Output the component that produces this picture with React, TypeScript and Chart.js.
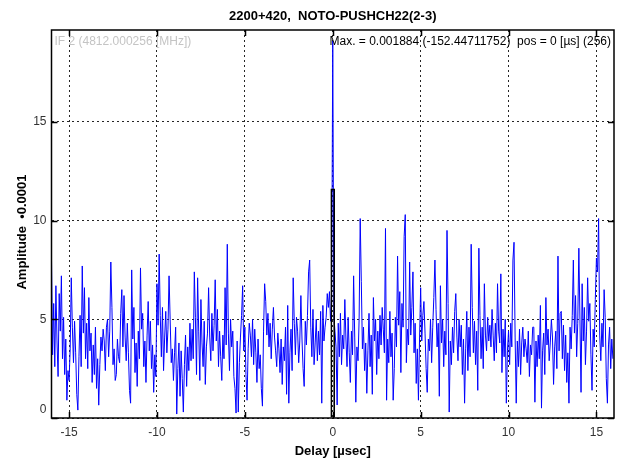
import React, { useEffect, useRef } from "react";
import { Chart, registerables } from "chart.js";

Chart.register(...registerables);

// ---- data ----
const DELAY_START = -16; // µs, first channel
const DELAY_STEP = 0.0625; // µs per channel (512 channels)

// Amplitude in units of 0.0001, read channel by channel from the plot
const amplitude: number[] = [
  // -16
  8.0, 3.2, 5.8, 2.6, 6.7, 3.9, 2.1, 6.3, 4.4, 7.2, 3.0, 5.1, 2.2, 4.0, 0.9, 2.4,
  // -15
  1.9, 3.5, 7.1, 4.6, 2.8, 4.9, 3.3, 1.2, 0.4, 3.1, 5.2, 2.6, 7.7, 4.3, 6.6, 3.0,
  // -14
  4.8, 2.5, 6.1, 3.4, 4.3, 1.8, 3.7, 2.2, 4.6, 1.5, 3.0, 0.65, 2.7, 4.1, 3.4, 4.5,
  // -13
  3.9, 2.4, 4.6, 5.0, 3.1, 4.4, 7.9, 5.6, 2.7, 3.5, 1.9, 2.2, 4.0, 3.1, 2.8, 5.3,
  // -12
  6.5, 3.6, 6.2, 4.1, 2.9, 4.8, 3.3, 1.4, 0.75, 7.5, 4.0, 5.6, 2.3, 3.8, 1.6, 4.4,
  // -11
  3.0, 7.6, 4.5, 5.3, 2.6, 3.9, 1.8, 4.2, 5.9, 3.4, 4.9, 2.5, 3.7, 1.3, 3.2, 2.1,
  // -10
  6.8, 4.7, 8.3, 5.2, 3.1, 5.6, 2.4, 4.1, 5.4, 3.3, 4.5, 7.2, 5.0, 2.8, 3.5, 1.9,
  // -9
  3.3, 4.6, 0.2, 2.5, 3.8, 1.1, 3.4, 2.0, 0.3, 2.7, 4.2, 1.6, 3.6, 2.4, 4.8, 2.9,
  // -8
  4.5, 3.0, 7.4, 5.1, 2.2, 7.1, 4.4, 1.9, 6.0, 3.8, 2.6, 4.9, 1.7, 3.6, 4.3, 6.6,
  // -7
  4.1, 2.9, 5.3, 3.4, 4.7, 7.0, 3.9, 5.5, 2.6, 4.4, 3.1, 1.9, 4.2, 3.0, 6.6, 3.7,
  // -6
  8.8, 4.3, 2.4, 5.0, 3.6, 4.4, 2.1, 1.5, 0.25, 3.9, 0.3, 2.8, 4.1, 5.2, 6.7, 3.4,
  // -5
  4.6, 2.2, 0.9, 3.5, 4.8, 4.2, 3.1, 5.0, 2.7, 4.5, 3.3, 1.8, 4.0, 2.5, 3.2, 1.5,
  // -4
  0.6, 4.4, 6.8, 5.9, 4.2, 5.3, 3.6, 4.8, 3.0, 4.5, 5.6, 4.1, 3.4, 2.6, 4.3, 3.5,
  // -3
  2.3, 4.0, 1.7, 3.6, 2.9, 4.6, 1.2, 5.7, 0.75, 3.3, 4.5, 2.4, 7.1, 4.8, 3.2, 5.1,
  // -2
  4.4, 2.8, 3.9, 6.2, 4.0, 2.5, 1.6, 4.9, 3.7, 5.2, 7.4, 8.0, 4.6, 3.1, 5.5, 2.7,
  // -1
  3.8, 5.0, 2.9, 4.4, 3.2, 5.4, 0.75, 5.7, 3.9, 4.6, 5.1, 6.3, 5.6, 6.4, 4.9, 5.8,
  // 0
  19.1, 5.2, 4.4, 3.6, 0.66, 4.8, 3.1, 5.3, 2.7, 4.2, 3.5, 6.0, 4.0, 2.6, 5.1, 3.3,
  // 1
  1.8, 4.4, 3.2, 7.2, 4.1, 0.8, 3.6, 2.9, 5.0, 10.1, 6.9, 3.5, 4.6, 2.4, 3.8, 1.25,
  // 2
  3.4, 5.3, 2.6, 4.2, 1.2, 6.1, 3.9, 5.0, 2.2, 4.4, 3.0, 5.2, 3.7, 5.6, 4.5, 3.3,
  // 3
  9.6, 0.9, 4.0, 2.8, 5.4, 3.1, 4.3, 0.9, 2.5, 5.1, 3.6, 8.2, 4.7, 6.4, 2.3, 5.8,
  // 4
  4.6, 9.2, 10.3, 2.8, 4.5, 3.7, 7.9, 4.2, 5.6, 7.4, 3.3, 4.8, 1.75, 3.5, 0.9, 4.0,
  // 5
  6.6, 3.9, 5.2, 5.9, 4.3, 2.5, 1.3, 4.0, 3.4, 5.0, 2.8, 4.6, 6.1, 8.0, 5.5, 3.6,
  // 6
  4.8, 1.1, 6.7, 3.8, 5.0, 2.6, 4.4, 3.2, 9.5, 5.8, 0.3, 3.9, 2.7, 4.6, 3.3, 5.4,
  // 7
  6.3, 4.1, 2.9, 5.0, 3.6, 4.7, 2.2, 4.0, 0.75, 3.5, 5.4, 2.4, 4.6, 3.1, 8.8, 5.6,
  // 8
  3.3, 4.9, 2.7, 4.4, 1.4, 8.6, 5.2, 3.0, 4.6, 2.5, 6.8, 4.2, 3.4, 5.1, 3.9, 4.7,
  // 9
  3.6, 5.5, 4.2, 2.9, 4.8, 3.3, 6.8, 4.4, 3.8, 7.3, 2.3, 4.5, 3.1, 5.0, 0.75, 3.4,
  // 10
  4.4, 2.7, 4.8, 3.6, 8.0, 8.9, 4.1, 0.75, 3.9, 2.6, 4.5, 2.2, 3.8, 4.6, 3.1, 4.0,
  // 11
  3.5, 2.8, 4.4, 2.1, 3.7, 3.2, 4.6, 4.6, 0.8, 3.9, 2.6, 4.2, 3.0, 5.7, 0.5, 3.4,
  // 12
  4.3, 2.2, 6.1, 3.7, 4.5, 2.9, 3.8, 5.0, 4.1, 1.7, 3.6, 4.4, 2.5, 8.2, 3.4, 5.3,
  // 13
  5.4, 3.0, 4.7, 2.4, 4.2, 1.8, 3.3, 0.75, 4.6, 3.5, 5.2, 8.0, 4.3, 6.2, 3.1, 4.8,
  // 14
  8.6, 5.0, 1.3, 6.8, 3.9, 5.6, 2.7, 4.4, 7.1, 4.9, 5.8, 3.2, 1.4, 4.5, 3.6, 6.0,
  // 15
  8.1, 7.4, 10.1, 4.2, 2.9, 4.8, 3.6, 6.5, 5.1, 2.0, 0.75, 3.7, 4.6, 2.5, 4.0, 3.0,
];

// black model bar at the peak
const modelDelay: number[] = [0];
const modelAmplitude: number[] = [11.6];

const xTicks: number[] = [-15, -10, -5, 0, 5, 10, 15];
const yTicks: number[] = [0, 5, 10, 15];
const X_MIN = -16;
const X_MAX = 16;
const Y_MIN = 0;
const Y_MAX = 19.65;

const titleText = "2200+420,  NOTO-PUSHCH22(2-3)";
const xTitle = "Delay [µsec]";
const yTitle = "Amplitude  •0.0001";
const ifText = "IF 2 (4812.000256 [MHz])";
const maxText = "Max. = 0.001884 (-152.44711752)  pos = 0 [µs] (256)";

const FONT = "'Liberation Sans', Arial, sans-serif";

const decorPlugin = {
  id: "decor",
  afterDatasetsDraw(chart: any) {
    const { ctx, chartArea } = chart;
    const { left, right, top, bottom } = chartArea;
    const xs = chart.scales.x;
    const ys = chart.scales.y;
    ctx.save();
    // frame
    ctx.strokeStyle = "#000";
    ctx.lineWidth = 1.5;
    ctx.strokeRect(left, top, right - left, bottom - top);
    // inward ticks
    const TL = 6;
    ctx.beginPath();
    xTicks.forEach((v) => {
      const px = Math.round(xs.getPixelForValue(v)) + 0.5;
      ctx.moveTo(px, bottom);
      ctx.lineTo(px, bottom - TL);
      ctx.moveTo(px, top);
      ctx.lineTo(px, top + TL);
    });
    yTicks.forEach((v) => {
      const py = Math.round(ys.getPixelForValue(v)) + 0.5;
      ctx.moveTo(left, py);
      ctx.lineTo(left + TL, py);
      ctx.moveTo(right, py);
      ctx.lineTo(right - TL, py);
    });
    ctx.stroke();

    // lowest y tick label sits slightly above the axis, as in the original
    ctx.font = `12px ${FONT}`;
    ctx.fillStyle = "#333";
    ctx.textAlign = "right";
    ctx.textBaseline = "middle";
    ctx.fillText(String(yTicks[0]), left - 5, ys.getPixelForValue(yTicks[0]) - 8);

    // annotations inside plot
    ctx.fillStyle = "#c4c4c4";
    ctx.textAlign = "left";
    ctx.fillText(ifText, left + 3, top + 12);
    ctx.fillStyle = "#000";
    ctx.textAlign = "right";
    ctx.fillText(maxText, right - 3, top + 12);

    // title
    const cx = (left + right) / 2;
    ctx.font = `bold 13px ${FONT}`;
    ctx.textAlign = "center";
    ctx.fillStyle = "#000";
    ctx.fillText(titleText, cx, 8);
    // x title
    ctx.fillText(xTitle, cx, 443);
    // y title
    ctx.translate(14, (top + bottom) / 2 + 8);
    ctx.rotate(-Math.PI / 2);
    ctx.fillText(yTitle, 0, 0);
    ctx.restore();
  },
};

export default function App() {
  const canvasRef = useRef<HTMLCanvasElement | null>(null);

  useEffect(() => {
    if (!canvasRef.current) return;
    const lineData = amplitude.map((a, i) => ({ x: DELAY_START + i * DELAY_STEP, y: a }));
    const barData = modelDelay.map((d, i) => ({ x: d, y: modelAmplitude[i] }));

    const chart = new Chart(canvasRef.current, {
      type: "line",
      data: {
        datasets: [
          {
            type: "line",
            label: "amplitude",
            data: lineData,
            borderColor: "#0000ff",
            borderWidth: 1,
            pointRadius: 0,
            tension: 0,
            fill: false,
            order: 2,
          } as any,
          {
            type: "bar",
            label: "model",
            data: barData,
            backgroundColor: "rgba(0,0,0,0)",
            borderColor: "#000",
            borderWidth: 1,
            barThickness: 4,
            order: 1,
          } as any,
        ],
      },
      options: {
        animation: false,
        responsive: false,
        maintainAspectRatio: false,
        events: [],
        layout: { padding: { left: 0, right: 2, top: 22, bottom: 0 } },
        plugins: {
          legend: { display: false },
          tooltip: { enabled: false },
          title: { display: false },
        },
        scales: {
          x: {
            type: "linear",
            min: X_MIN,
            max: X_MAX,
            offset: false,
            afterBuildTicks: (s: any) => {
              s.ticks = xTicks.map((v) => ({ value: v }));
            },
            afterFit: (s: any) => {
              s.height = 44;
            },
            grid: { color: "rgba(0,0,0,0.85)", lineWidth: 1, drawTicks: false, offset: false },
            border: { display: false, dash: [2, 3] },
            ticks: {
              padding: 7,
              color: "#333",
              font: { family: FONT, size: 12 },
              maxRotation: 0,
              callback: (v: any) => String(v),
            },
          },
          y: {
            type: "linear",
            min: Y_MIN,
            max: Y_MAX,
            afterBuildTicks: (s: any) => {
              s.ticks = yTicks.map((v) => ({ value: v }));
            },
            afterFit: (s: any) => {
              s.width = 43.5;
            },
            grid: { color: "rgba(0,0,0,0.85)", lineWidth: 1, drawTicks: false, offset: false },
            border: { display: false, dash: [2, 3] },
            ticks: {
              padding: 5,
              color: "#333",
              font: { family: FONT, size: 12 },
              callback: (v: any) => (v === yTicks[0] ? "" : String(v)),
            },
          },
        },
      } as any,
      plugins: [decorPlugin],
    });
    return () => chart.destroy();
  }, []);

  return (
    <div style={{ position: "absolute", left: 8, top: 8, width: 608, height: 454 }}>
      <canvas ref={canvasRef} width={608} height={454} style={{ display: "block" }} />
    </div>
  );
}
